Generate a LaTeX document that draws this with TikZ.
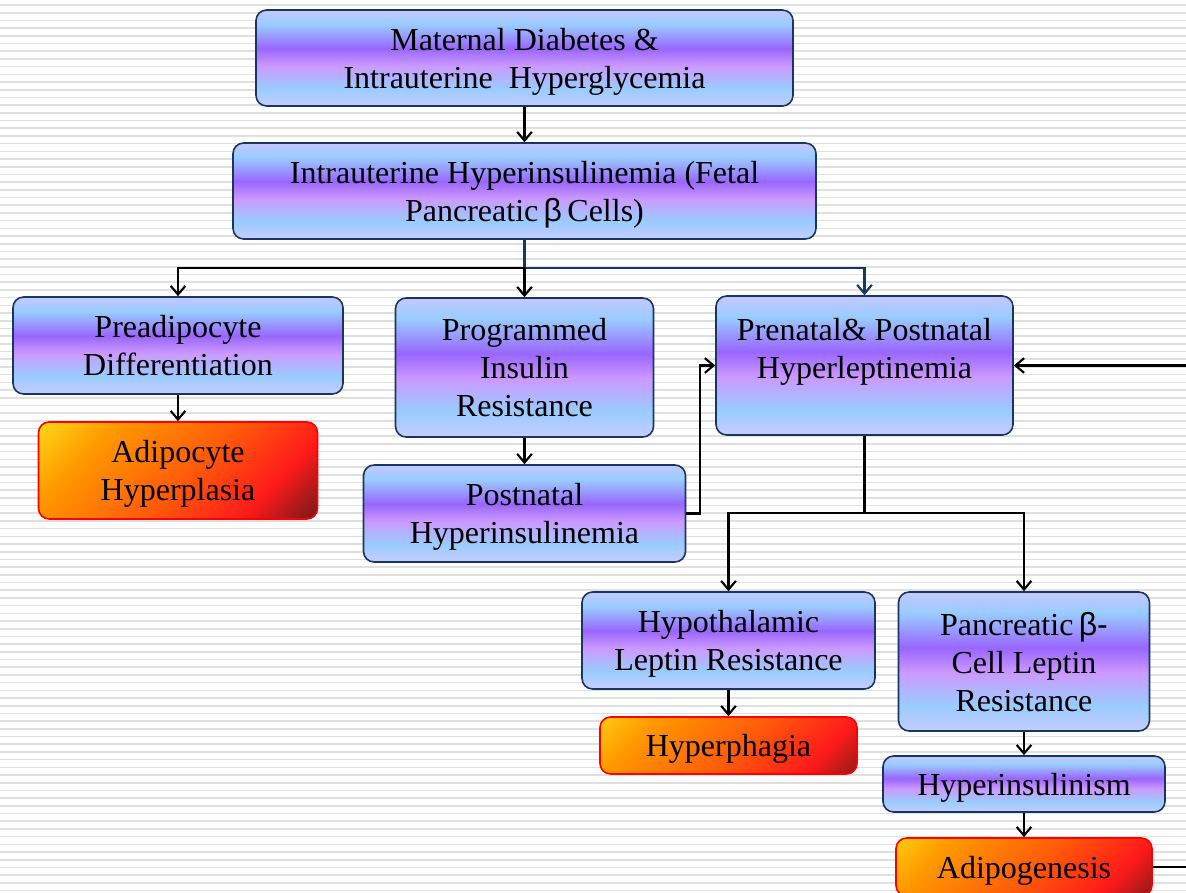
\documentclass[tikz,border=0pt]{standalone}
\usepackage{fontspec}
\setmainfont{Liberation Serif}
\newfontfamily\symfont{Liberation Sans}
\usepackage{tikz}
\usetikzlibrary{positioning,arrows.meta,shapes}

\definecolor{navy}{HTML}{17375E}
\definecolor{lavtop}{HTML}{C4C8FF}
\definecolor{lavbot}{HTML}{C8CCFF}
\definecolor{sky}{HTML}{99CCFF}
\definecolor{violet}{HTML}{9966FF}
\definecolor{lilac}{HTML}{CC99FF}
\definecolor{fireyel}{HTML}{FFE619}
\definecolor{fireora}{HTML}{FF9A00}
\definecolor{fireflame}{HTML}{FF5A0A}
\definecolor{firered}{HTML}{FF1A1A}
\definecolor{firedark}{HTML}{6E1A1A}
\definecolor{stripe}{HTML}{E0E0E0}

\pgfdeclareverticalshading{skyshade}{100bp}{color(0bp)=(lavbot); color(25bp)=(lavbot);
  color(34bp)=(sky); color(46bp)=(lilac); color(55bp)=(violet); color(67.5bp)=(sky);
  color(75bp)=(lavtop); color(100bp)=(lavtop)}
\pgfdeclarehorizontalshading{fireshade}{100bp}{color(0bp)=(fireyel); color(24bp)=(fireyel);
  color(36bp)=(fireora); color(52bp)=(fireflame); color(64bp)=(firered); color(74bp)=(firedark);
  color(100bp)=(firedark)}

\tikzset{dims/.style 2 args={minimum width=#1*0.75pt,minimum height=#2*0.75pt},
  fire/.style={path picture={\shade[shading=fireshade,shading angle=-45]
      (path picture bounding box.center) ++(-#1,-#1) rectangle ++(2*#1,2*#1);}}}

\begin{document}
\begin{tikzpicture}[x=0.75pt,y=-0.75pt,
    box/.style={rectangle,rounded corners=8pt,align=center,inner sep=0pt,
      text depth=-4pt,font=\fontsize{24}{28.5}\selectfont},
    bluebox/.style={box,draw=navy,line width=1.2pt,shade,shading=skyshade},
    firebox/.style={box,draw=red,line width=1.2pt},
    link/.style={line width=1.6pt,-{Straight Barb[length=6.5pt,width=11pt]}}]

    % the background
    \useasboundingbox (0,0) rectangle (1186,893);
    \clip (0,0) rectangle (1186,893);
    \fill[white] (0,0) rectangle (1186,893);
    \foreach \k in {0,...,115}
      \draw[stripe,line width=1.2pt] (0,5+7.7*\k) -- (1186,5+7.7*\k);

    % the boxes
    \node[bluebox,dims={537}{96}] (mat) at (524.5,58) {Maternal Diabetes \&\\Intrauterine~ Hyperglycemia};
    \node[bluebox,dims={583}{96}] (inner) at (524.5,191) {Intrauterine Hyperinsulinemia (Fetal\\Pancreatic\,{\symfont β}\,Cells)};
    \node[bluebox,dims={330}{97}] (prea) at (178,345.5) {Preadipocyte\\Differentiation};
    \node[bluebox,dims={258}{139}] (prog) at (524.5,367.5) {Programmed\\Insulin\\Resistance};
    \node[bluebox,dims={297}{139},text depth=25pt] (lep) at (864.5,365.5) {Prenatal\& Postnatal\\Hyperleptinemia};
    \node[firebox,fire=140,dims={279}{97}] (adip) at (178,470.5) {Adipocyte\\Hyperplasia};
    \node[bluebox,dims={322}{97}] (postn) at (524.5,513.5) {Postnatal\\Hyperinsulinemia};
    \node[bluebox,dims={293}{97}] (hypo) at (728.5,640.5) {Hypothalamic\\Leptin Resistance};
    \node[bluebox,dims={251}{139}] (panc) at (1024,661.5) {Pancreatic\,{\symfont β-}\\Cell Leptin\\Resistance};
    \node[firebox,fire=129,dims={257}{57}] (phag) at (728.5,745.5) {Hyperphagia};
    \node[bluebox,dims={282}{56}] (hins) at (1024,784) {Hyperinsulinism};
    \node[firebox,fire=128,dims={256}{58}] (gen) at (1024,867) {Adipogenesis};

    % the links
    \coordinate (split1) at (524.5,268);
    \coordinate (split2) at (864.5,513);
    \draw[link,navy] (split1) -| (lep);
    \draw[line width=1.6pt,navy] (inner) -- (split1);
    \draw[link] (mat) -- (inner);
    \draw[link] (split1) -| (prea);
    \draw[link] (split1) -- (prog);
    \draw[link] (prea) -- (adip);
    \draw[link] (prog) -- (postn);
    \draw[link] (postn.east) -- ++(14,0) |- (lep.west);
    \draw[link] (gen.east) -- ++(60,0) |- (lep.east);
    \draw[line width=1.6pt] (lep) -- (split2);
    \draw[link] (split2) -| (hypo);
    \draw[link] (split2) -| (panc);
    \draw[link] (hypo) -- (phag);
    \draw[link] (panc) -- (hins);
    \draw[link] (hins) -- (gen);

  \end{tikzpicture}
\end{document}
